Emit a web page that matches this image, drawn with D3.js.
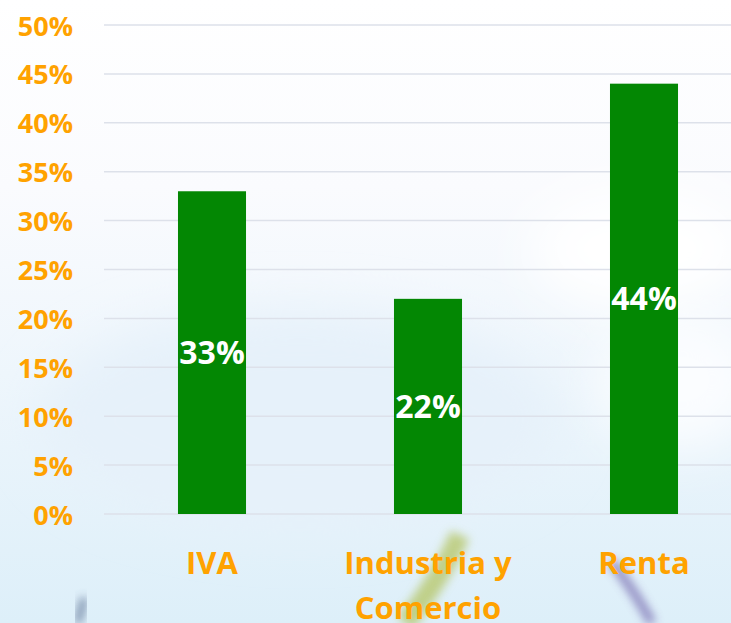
<!DOCTYPE html>
<html>
<head>
<meta charset="utf-8">
<script src="https://cdn.jsdelivr.net/npm/d3@7"></script>
<style>
  html, body { margin: 0; padding: 0; overflow: hidden; }
  svg { display: block; }
</style>
</head>
<body>
<script>
(function () {

var categories = [["IVA"], ["Industria y", "Comercio"], ["Renta"]];
var values = [33, 22, 44];
var tickValues = [0, 5, 10, 15, 20, 25, 30, 35, 40, 45, 50];

var width = 731,
    height = 623,
    left = 104,
    top = 25,
    bottom = 514,
    orange = "#ffa200",
    green = "#038703";

var x = d3.scaleBand()
    .domain(d3.range(categories.length))
    .range([left, left + 216 * 3])
    .paddingInner(0.685)
    .paddingOuter(0.3425);

var y = d3.scaleLinear()
    .domain([0, 50])
    .range([bottom, top]);

var svg = d3.select("body").append("svg")
    .attr("width", width)
    .attr("height", height);

// background, sky-ish
var defs = svg.append("defs");
var bg = defs.append("linearGradient")
    .attr("id", "bg").attr("x1", 0).attr("y1", 0).attr("x2", 0).attr("y2", 1);
bg.append("stop").attr("offset", "0%").attr("stop-color", "#ffffff");
bg.append("stop").attr("offset", "30%").attr("stop-color", "#fafbfe");
bg.append("stop").attr("offset", "60%").attr("stop-color", "#eef6fc");
bg.append("stop").attr("offset", "100%").attr("stop-color", "#ddeff9");
defs.append("filter").attr("id", "blur")
    .attr("x", "-50%").attr("y", "-50%").attr("width", "200%").attr("height", "200%")
  .append("feGaussianBlur").attr("stdDeviation", 5);
defs.append("filter").attr("id", "blur2")
    .attr("x", "-50%").attr("y", "-50%").attr("width", "200%").attr("height", "200%")
  .append("feGaussianBlur").attr("stdDeviation", 25);

svg.append("rect").attr("width", width).attr("height", height).attr("fill", "url(#bg)");

// faint blue haze on the left and white clouds on the right
svg.append("ellipse").attr("cx", 300).attr("cy", 420).attr("rx", 260).attr("ry", 110)
    .attr("fill", "#e6f1fa").attr("filter", "url(#blur2)");
svg.append("ellipse").attr("cx", 640).attr("cy", 250).attr("rx", 110).attr("ry", 60)
    .attr("fill", "#ffffff").attr("filter", "url(#blur2)");
svg.append("ellipse").attr("cx", 680).attr("cy", 380).attr("rx", 80).attr("ry", 70)
    .attr("fill", "#fbfdff").attr("filter", "url(#blur2)");

// blurry stems at the bottom
svg.append("path").attr("d", "M84,598 L78,623")
    .attr("stroke", "#4e6488").attr("stroke-width", 6).attr("fill", "none")
    .attr("filter", "url(#blur)").attr("opacity", 0.85);
svg.append("path").attr("d", "M460,535 Q440,580 405,623")
    .attr("stroke", "#b2c25a").attr("stroke-width", 20).attr("fill", "none")
    .attr("filter", "url(#blur)").attr("opacity", 0.7);
svg.append("path").attr("d", "M612,562 Q635,592 652,623")
    .attr("stroke", "#7a6fb2").attr("stroke-width", 9).attr("fill", "none")
    .attr("filter", "url(#blur)").attr("opacity", 0.8);

// gridlines
svg.append("g")
  .selectAll("line")
  .data(tickValues)
  .enter().append("line")
    .attr("x1", left).attr("x2", width)
    .attr("y1", function (d) { return y(d); })
    .attr("y2", function (d) { return y(d); })
    .attr("stroke", "#dde1ea")
    .attr("stroke-width", 1.5);

// y axis labels
var yAxis = d3.axisLeft(y)
    .tickValues(tickValues)
    .tickFormat(function (d) { return d + "%"; })
    .tickSize(0)
    .tickPadding(31);

var ya = svg.append("g")
    .attr("transform", "translate(" + left + ",0)")
    .call(yAxis);
ya.select(".domain").remove();
ya.selectAll("text")
    .attr("fill", orange)
    .attr("font-family", "Open Sans")
    .attr("font-weight", "bold")
    .attr("font-size", 27)
    .attr("dy", "0.37em");

// bars
svg.append("g")
  .selectAll("rect")
  .data(values)
  .enter().append("rect")
    .attr("x", function (d, i) { return x(i); })
    .attr("y", function (d) { return y(d); })
    .attr("width", x.bandwidth())
    .attr("height", function (d) { return y(0) - y(d); })
    .attr("fill", green);

// data labels
svg.append("g")
  .selectAll("text")
  .data(values)
  .enter().append("text")
    .attr("x", function (d, i) { return x(i) + x.bandwidth() / 2; })
    .attr("y", function (d) { return (y(0) + y(d)) / 2; })
    .attr("dy", "0.36em")
    .attr("text-anchor", "middle")
    .attr("fill", "#ffffff")
    .attr("font-family", "Open Sans")
    .attr("font-weight", "bold")
    .attr("font-size", 32)
    .text(function (d) { return d + "%"; });

// category labels
var cat = svg.append("g")
  .selectAll("text")
  .data(categories)
  .enter().append("text")
    .attr("text-anchor", "middle")
    .attr("fill", orange)
    .attr("font-family", "Open Sans")
    .attr("font-weight", "bold")
    .attr("font-size", 31)
    .attr("transform", function (d, i) {
        return "translate(" + (x(i) + x.bandwidth() / 2) + ",574)";
    });
cat.selectAll("tspan")
  .data(function (d) { return d; })
  .enter().append("tspan")
    .attr("x", 0)
    .attr("y", function (d, i) { return i * 45; })
    .text(function (d) { return d; });

})();
</script>
</body>
</html>
